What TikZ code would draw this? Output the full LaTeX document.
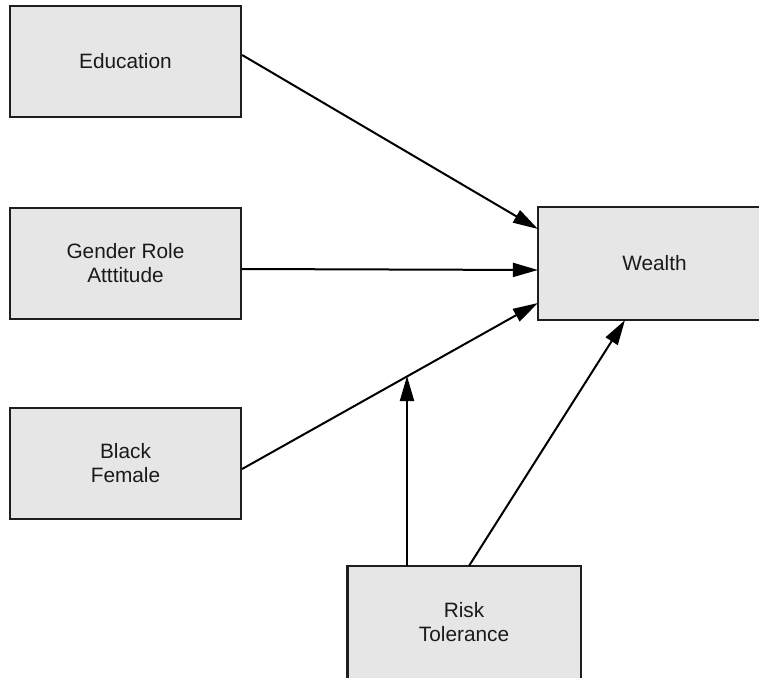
\documentclass[tikz,border=0pt]{standalone}
\usepackage{fontspec}
\setmainfont{Liberation Sans}
\usetikzlibrary{arrows.meta,calc}
\definecolor{boxfill}{HTML}{E6E6E6}
\definecolor{boxline}{HTML}{1E1E1E}
\definecolor{txt}{HTML}{1A1A1A}
\tikzset{
  varbox/.style={draw=boxline, line width=2.2pt, fill=boxfill, minimum width=231pt, minimum height=111pt,
    inner sep=0pt, align=center, text=txt, font=\fontsize{20.8}{24}\selectfont},
  openbox/.style={varbox, draw=none},
  border/.style={draw=boxline, line width=2.2pt, line join=miter},
  conn/.style={line width=2pt, draw=black, -{Triangle[length=25pt,width=14pt]}}
}
\begin{document}
\begin{tikzpicture}[x=1pt,y=-1pt]
\useasboundingbox (0,0) rectangle (759,677);
\fill[white] (-20,-20) rectangle (800,700);
\node[varbox] (edu) at (125.5,61.5) {Education};
\node[varbox] (gra) at (125.5,263.5) {Gender Role\\Atttitude};
\node[varbox] (bf) at (125.5,463.5) {Black\\Female};
\node[openbox, minimum width=300pt] (wbg) at (689,263.5) {};
\node[openbox, fill=none] (w) at (654.5,263.5) {Wealth};
\node[openbox] (rt) at (464,622.5) {Risk\\Tolerance};
\draw[border] (wbg.north east) -- (w.north west) -- (w.south west) -- (wbg.south east);
\draw[border] (rt.south west) -- (rt.north west) -- (rt.north east) -- (rt.south east);
\coordinate (eduS) at ($(edu.east)+(0,-6.5)$);
\coordinate (graS) at ($(gra.east)+(0,5.5)$);
\coordinate (bfS) at ($(bf.east)+(0,5.5)$);
\coordinate (wT1) at ($(w.west)+(0,-34.5)$);
\coordinate (wT2) at ($(w.west)+(0,6.5)$);
\coordinate (wT3) at ($(w.west)+(0,39.5)$);
\coordinate (wT4) at ($(w.south)+(-29.5,0)$);
\coordinate (rtS1) at ($(rt.north)+(-57,0)$);
\coordinate (rtS2) at ($(rt.north)+(5,0)$);
\coordinate (mid) at ($(bfS)!0.56!(wT3)$);
\draw[conn] (eduS) -- (wT1);
\draw[conn] (graS) -- (wT2);
\draw[conn] (bfS) -- (wT3);
\draw[conn] (rtS2) -- (wT4);
\draw[conn] (rtS1) -- (rtS1 |- mid);
\end{tikzpicture}
\end{document}
